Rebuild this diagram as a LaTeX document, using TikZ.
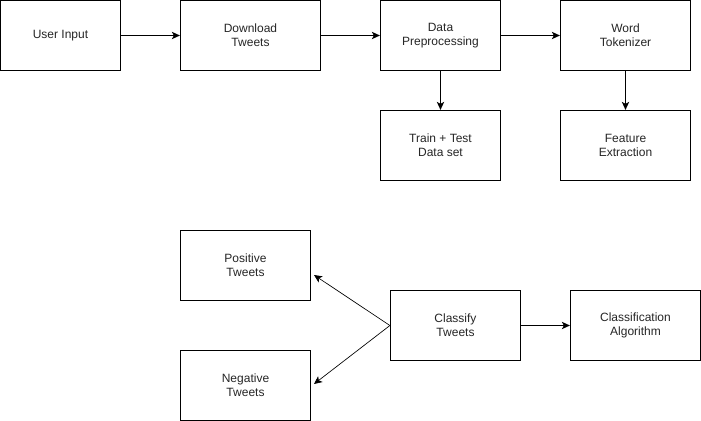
\documentclass[tikz,border=0pt]{standalone}
\usepackage{fontspec}
\setmainfont{Liberation Sans}
\usetikzlibrary{arrows.meta}
\begin{document}
\begin{tikzpicture}[x=0.75pt,y=-0.75pt,
  box/.style={draw=black,line width=0.9pt,fill=white,minimum width=#1*0.75pt,minimum height=52.5pt,inner sep=0pt,align=center,text=black!85,font=\fontsize{9}{10.5}\selectfont},
  box/.default=130,
  arr/.style={line width=0.9pt,-{Stealth[length=6pt,width=5.5pt,inset=1.5pt]}},
  thinarr/.style={line width=0.5pt,-{Stealth[length=6pt,width=5.5pt,inset=1.5pt]}}]
\useasboundingbox (0,0) rectangle (701,421);
\node[box=120] (ui) at (60.5,35.5) {User Input};
\node[box=140] (dl) at (250.5,35.5) {Download\\Tweets};
\node[box=120] (dp) at (440.5,35.5) {Data\\Preprocessing};
\node[box=130] (wt) at (625.5,35.5) {Word\\Tokenizer};
\node[box=120] (tt) at (440.5,145.5) {Train + Test\\Data set};
\node[box=130] (fe) at (625.5,145.5) {Feature\\Extraction};
\node[box=130] (pt) at (245.5,265.5) {Positive\\Tweets};
\node[box=130] (nt) at (245.5,385.5) {Negative\\Tweets};
\node[box=130] (ct) at (455.5,325.5) {Classify\\Tweets};
\node[box=130] (ca) at (635.5,325.5) {Classification\\Algorithm};
\coordinate (ptip) at (314,275);
\coordinate (ntip) at (314,384);
\draw[arr] (ui.east) -- (dl.west);
\draw[arr] (dl.east) -- (dp.west);
\draw[arr] (dp.east) -- (wt.west);
\draw[arr] (dp.south) -- (tt.north);
\draw[arr] (wt.south) -- (fe.north);
\draw[arr] (ct.east) -- (ca.west);
\draw[thinarr] (ct.west) -- (ptip);
\draw[thinarr] (ct.west) -- (ntip);
\end{tikzpicture}
\end{document}
